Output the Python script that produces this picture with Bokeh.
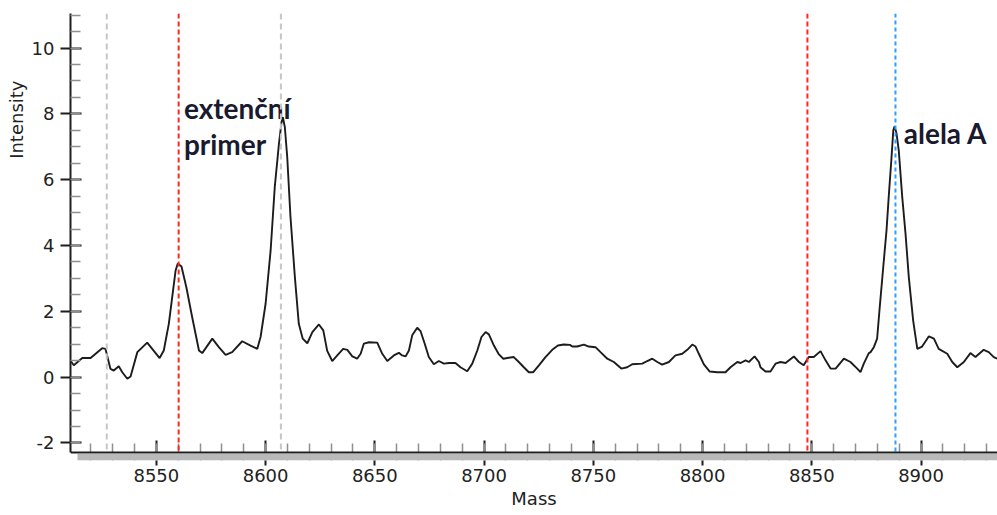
from bokeh.plotting import figure
from bokeh.models import (ColumnDataSource, Span, BoxAnnotation, Title,
                          SingleIntervalTicker, Range1d, PrintfTickFormatter)
from bokeh.core.properties import value
from bokeh.embed import file_html
from bokeh.resources import INLINE

# Spectrum trace (mass in Da, intensity in arbitrary units)
mass = [
    8510.7, 8512.2, 8516.1, 8519.9, 8525.2, 8526.7, 8529.0, 8530.5, 8532.8, 8534.4,
    8536.7, 8538.2, 8541.3, 8545.8, 8548.1, 8551.5, 8553.4, 8555.7, 8558.8, 8559.8,
    8561.5, 8563.7, 8566.4, 8569.5, 8571.0, 8575.6, 8578.6, 8581.7, 8584.7, 8589.3,
    8593.1, 8596.2, 8597.7, 8600.0, 8602.3, 8604.2, 8606.1, 8607.3, 8607.9, 8608.8,
    8609.9, 8611.4, 8613.4, 8615.2, 8617.0, 8619.1, 8621.4, 8624.4, 8626.4, 8628.2,
    8630.5, 8632.8, 8635.5, 8637.4, 8639.7, 8641.9, 8643.5, 8645.0, 8647.3, 8651.1,
    8653.4, 8655.7, 8658.7, 8661.0, 8662.5, 8664.1, 8665.6, 8667.1, 8669.4, 8670.9,
    8672.8, 8674.7, 8677.0, 8679.3, 8681.6, 8683.9, 8686.9, 8689.2, 8692.3, 8694.6,
    8696.9, 8698.8, 8700.7, 8702.2, 8704.5, 8706.8, 8708.8, 8711.3, 8713.6, 8715.9,
    8718.2, 8720.5, 8722.5, 8725.1, 8728.1, 8731.2, 8733.8, 8736.5, 8739.3, 8740.4,
    8742.6, 8745.7, 8747.9, 8751.0, 8753.3, 8756.4, 8759.4, 8762.8, 8765.5, 8767.8,
    8772.4, 8774.7, 8777.0, 8779.3, 8781.5, 8784.6, 8787.6, 8790.7, 8793.0, 8795.3,
    8796.8, 8798.3, 8800.6, 8803.3, 8806.7, 8810.5, 8812.8, 8815.9, 8817.4, 8819.7,
    8821.2, 8823.8, 8825.8, 8826.5, 8828.8, 8831.1, 8833.4, 8835.7, 8838.0, 8841.8,
    8844.1, 8846.3, 8848.6, 8850.9, 8854.0, 8856.3, 8858.6, 8860.9, 8864.7, 8867.7,
    8870.8, 8872.3, 8873.8, 8876.1, 8876.9, 8878.4, 8879.9, 8881.1, 8882.7, 8884.2,
    8885.3, 8886.4, 8887.3, 8887.9, 8888.8, 8889.8, 8891.4, 8892.9, 8894.4, 8896.4,
    8898.3, 8900.5, 8903.6, 8905.9, 8908.1, 8912.0, 8914.3, 8916.6, 8919.6, 8922.6,
    8924.9, 8928.7, 8931.0, 8933.3, 8934.9,
]
intensity = [
    0.50, 0.36, 0.58, 0.58, 0.88, 0.86, 0.25, 0.20, 0.33, 0.15,
    -0.05, 0.02, 0.76, 1.05, 0.86, 0.58, 0.81, 1.62, 3.24, 3.45,
    3.36, 2.74, 1.82, 0.81, 0.73, 1.17, 0.91, 0.68, 0.76, 1.09,
    0.96, 0.86, 1.22, 2.23, 3.85, 5.78, 7.09, 7.75, 7.90, 7.60,
    6.69, 4.86, 3.04, 1.62, 1.17, 1.03, 1.37, 1.60, 1.42, 0.80,
    0.49, 0.66, 0.86, 0.83, 0.63, 0.56, 0.71, 1.02, 1.06, 1.05,
    0.71, 0.49, 0.66, 0.74, 0.66, 0.63, 0.81, 1.27, 1.50, 1.40,
    1.02, 0.61, 0.39, 0.49, 0.41, 0.43, 0.43, 0.30, 0.18, 0.41,
    0.81, 1.22, 1.37, 1.30, 0.96, 0.69, 0.56, 0.59, 0.61, 0.46,
    0.30, 0.15, 0.15, 0.36, 0.61, 0.83, 0.96, 0.99, 0.98, 0.93,
    0.93, 0.99, 0.93, 0.91, 0.76, 0.56, 0.46, 0.26, 0.30, 0.39,
    0.41, 0.49, 0.56, 0.46, 0.38, 0.46, 0.66, 0.71, 0.83, 0.99,
    0.93, 0.71, 0.39, 0.17, 0.15, 0.15, 0.30, 0.46, 0.43, 0.51,
    0.46, 0.63, 0.46, 0.30, 0.17, 0.17, 0.41, 0.46, 0.43, 0.63,
    0.46, 0.36, 0.61, 0.61, 0.79, 0.51, 0.26, 0.26, 0.56, 0.46,
    0.26, 0.15, 0.41, 0.73, 0.76, 0.91, 1.17, 2.13, 3.34, 4.46,
    5.57, 6.59, 7.50, 7.62, 7.40, 6.89, 5.47, 4.36, 3.04, 1.72,
    0.86, 0.93, 1.24, 1.17, 0.86, 0.71, 0.46, 0.30, 0.46, 0.73,
    0.61, 0.83, 0.76, 0.61, 0.56,
]

# Expected masses marked on the spectrum
marker_mass = [8527.3, 8560.2, 8607.0, 8848.0, 8888.3]
marker_kind = ["calibrant", "primer", "calibrant", "primer", "allele"]

# Peak annotations
label_text = ["extenční", "primer", "alela A"]

x_ticks_major = 50
y_ticks_major = 2

marker_style = {
    "calibrant": dict(line_color="#c6c6c6", line_dash="6 4"),
    "primer": dict(line_color="#ff2626", line_dash="5 3"),
    "allele": dict(line_color="#2f9dff", line_dash="4 3"),
}

# visible axis extent; the frame reaches a little lower to hold the axis shadow
x_lo, x_hi = 8510.7, 8935.0
y_lo, y_hi = -2.29, 11.05
px_per_unit_y = 32.9
px_per_unit_x = 2.185
shadow_px = 8

p = figure(
    width=997, height=515,
    x_range=Range1d(x_lo, x_hi),
    y_range=Range1d(y_lo - shadow_px / px_per_unit_y, y_hi),
    output_backend="svg", toolbar_location=None,
    min_border_left=70, min_border_right=0, min_border_top=13, min_border_bottom=55,
)
p.outline_line_color = None
p.xgrid.grid_line_color = None
p.ygrid.grid_line_color = None
p.background_fill_color = "white"
p.border_fill_color = "white"

tick_font = "DejaVu Sans"
axis_color = "#1e1e1e"
minor_color = "#8f8f8f"
text_grey = "#222222"

xa = p.xaxis[0]
xa.ticker = SingleIntervalTicker(interval=x_ticks_major, num_minor_ticks=5)
xa.axis_line_color = None
xa.major_tick_line_color = axis_color
xa.major_tick_line_width = 2
xa.major_tick_in = 12 + shadow_px
xa.major_tick_out = 5
xa.minor_tick_line_color = minor_color
xa.minor_tick_line_width = 1.5
xa.minor_tick_in = 9 + shadow_px
xa.minor_tick_out = 0
xa.major_label_standoff = 3
xa.major_label_text_font = tick_font
xa.major_label_text_font_size = "18px"
xa.major_label_text_color = text_grey
xa.axis_label = "Mass"
xa.axis_label_text_font = tick_font
xa.axis_label_text_font_size = "18px"
xa.axis_label_text_font_style = "normal"
xa.axis_label_text_color = text_grey
xa.axis_label_standoff = 3

ya = p.yaxis[0]
ya.ticker = SingleIntervalTicker(interval=y_ticks_major, num_minor_ticks=4)
ya.formatter = PrintfTickFormatter(format="%d")
ya.bounds = (y_lo, y_hi)
ya.axis_line_color = axis_color
ya.axis_line_width = 2
ya.major_tick_line_color = axis_color
ya.major_tick_line_width = 2
ya.major_tick_in = 11
ya.major_tick_out = 10
ya.minor_tick_line_color = minor_color
ya.minor_tick_line_width = 1.5
ya.minor_tick_in = 10
ya.minor_tick_out = 0
ya.major_label_standoff = 6
ya.major_label_text_font = tick_font
ya.major_label_text_font_size = "18px"
ya.major_label_text_color = text_grey
ya.level = "overlay"

# vertical marker lines
for m, kind in zip(marker_mass, marker_kind):
    p.add_layout(Span(location=m, dimension="height", line_width=2,
                      **marker_style[kind]))

# spectrum
p.line(mass, intensity, line_color="#1c1c1c", line_width=1.9)

# white strip under the axis line, then the grey shadow offset to the right
p.add_layout(BoxAnnotation(top=y_lo, bottom=None, left=None, right=None,
                           fill_color="white", fill_alpha=1.0, line_color=None))
p.add_layout(BoxAnnotation(top=y_lo - 1.5 / px_per_unit_y, bottom=None,
                           left=x_lo + 7 / px_per_unit_x, right=None,
                           fill_color="#b9b9b9", fill_alpha=1.0, line_color=None))
# the mass axis line itself
p.add_layout(Span(location=y_lo, dimension="width", line_color=axis_color,
                  line_width=2))

# annotations next to the peaks
primer_mass = marker_mass[1]
allele_mass = marker_mass[4]
ann = ColumnDataSource(dict(
    x=[primer_mass + 2.4, primer_mass + 2.4, allele_mass + 3.8],
    y=[8.17, 7.08, 7.42],
    text=label_text,
))
p.text(x="x", y="y", text="text", source=ann,
       text_font=value("Lato"), text_font_style="bold", text_font_size="28px",
       text_color="#1a1a2e", text_align="left", text_baseline="alphabetic")

# vertical axis title, placed near the upper end of the axis
p.add_layout(Title(text="Intensity", align="right", offset=67, standoff=4,
                   text_font=tick_font, text_font_size="18px",
                   text_font_style="normal", text_color=text_grey), "left")

open("out.html", "w").write(file_html(p, INLINE))
